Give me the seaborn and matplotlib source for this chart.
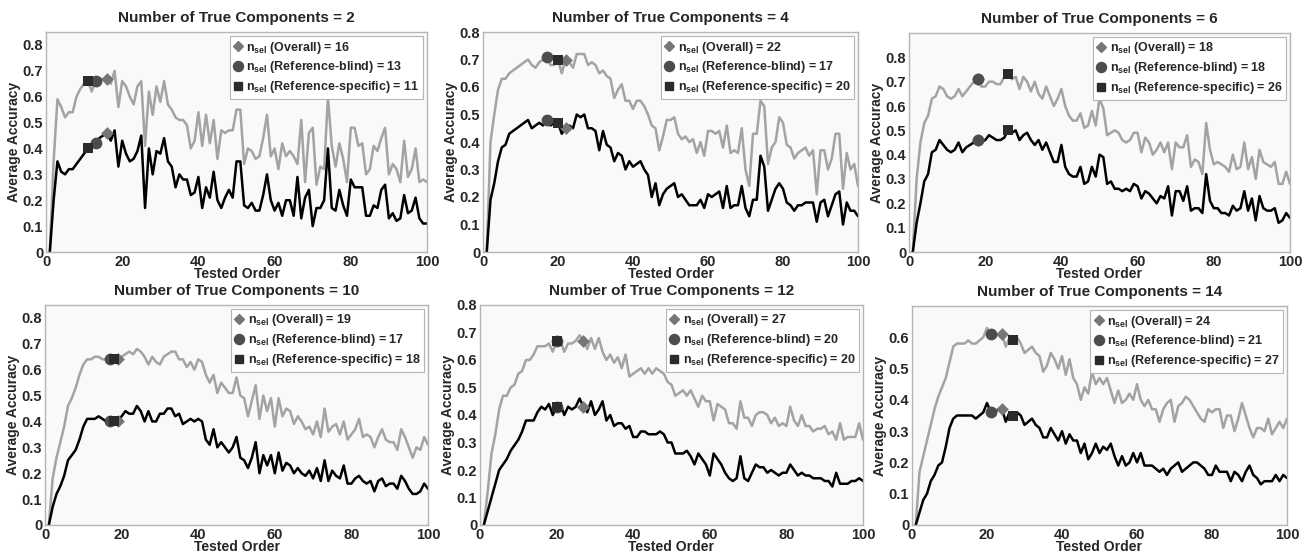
import numpy as np
import pandas as pd
import seaborn as sns
import matplotlib.pyplot as plt
from matplotlib.lines import Line2D

sns.set_theme(style="white")
plt.rcParams['font.family'] = ['Liberation Sans', 'DejaVu Sans']
plt.rcParams['font.weight'] = 'bold'
plt.rcParams['mathtext.fontset'] = 'custom'
plt.rcParams['mathtext.rm'] = 'Liberation Sans:bold'
plt.rcParams['mathtext.default'] = 'rm'

orders = list(range(1, 101))
n_true = [2, 4, 6, 10, 12, 14]

gray_k2 = [0.0, 0.35, 0.59, 0.56, 0.52, 0.54, 0.54, 0.60, 0.63, 0.65,
           0.66, 0.62, 0.66, 0.66, 0.67, 0.67, 0.65, 0.70, 0.56, 0.66,
           0.64, 0.60, 0.57, 0.64, 0.66, 0.41, 0.62, 0.53, 0.64, 0.58,
           0.66, 0.57, 0.55, 0.52, 0.51, 0.51, 0.49, 0.40, 0.43, 0.54,
           0.41, 0.53, 0.42, 0.51, 0.36, 0.47, 0.46, 0.47, 0.47, 0.55,
           0.55, 0.34, 0.40, 0.39, 0.36, 0.37, 0.44, 0.53, 0.37, 0.40,
           0.32, 0.42, 0.37, 0.39, 0.37, 0.34, 0.51, 0.27, 0.46, 0.48,
           0.26, 0.33, 0.32, 0.60, 0.41, 0.33, 0.42, 0.36, 0.27, 0.48,
           0.48, 0.41, 0.42, 0.30, 0.32, 0.41, 0.39, 0.44, 0.48, 0.30,
           0.34, 0.32, 0.27, 0.43, 0.29, 0.32, 0.40, 0.27, 0.28, 0.27]
black_k2 = [0.0, 0.20, 0.35, 0.31, 0.30, 0.32, 0.32, 0.34, 0.36, 0.38,
            0.40, 0.40, 0.42, 0.44, 0.45, 0.46, 0.43, 0.47, 0.33, 0.43,
            0.38, 0.35, 0.36, 0.39, 0.45, 0.17, 0.40, 0.30, 0.39, 0.38,
            0.44, 0.35, 0.33, 0.25, 0.30, 0.28, 0.28, 0.22, 0.23, 0.29,
            0.17, 0.25, 0.21, 0.31, 0.20, 0.17, 0.21, 0.24, 0.21, 0.35,
            0.35, 0.18, 0.17, 0.19, 0.16, 0.16, 0.22, 0.30, 0.20, 0.16,
            0.19, 0.14, 0.20, 0.20, 0.14, 0.29, 0.13, 0.21, 0.24, 0.10,
            0.17, 0.17, 0.20, 0.40, 0.17, 0.16, 0.24, 0.18, 0.14, 0.28,
            0.25, 0.25, 0.25, 0.14, 0.14, 0.18, 0.17, 0.24, 0.26, 0.13,
            0.15, 0.12, 0.13, 0.22, 0.15, 0.16, 0.21, 0.13, 0.11, 0.11]

gray_k4 = [0.0, 0.40, 0.50, 0.59, 0.63, 0.63, 0.65, 0.66, 0.67, 0.68,
           0.69, 0.70, 0.68, 0.67, 0.69, 0.70, 0.71, 0.68, 0.68, 0.70,
           0.65, 0.70, 0.69, 0.67, 0.72, 0.72, 0.72, 0.68, 0.69, 0.68,
           0.65, 0.66, 0.64, 0.63, 0.56, 0.59, 0.61, 0.55, 0.55, 0.52,
           0.55, 0.55, 0.53, 0.50, 0.46, 0.45, 0.37, 0.42, 0.48, 0.48,
           0.49, 0.43, 0.41, 0.42, 0.40, 0.41, 0.36, 0.40, 0.35, 0.44,
           0.44, 0.43, 0.44, 0.38, 0.46, 0.36, 0.37, 0.36, 0.45, 0.30,
           0.24, 0.43, 0.43, 0.55, 0.53, 0.32, 0.38, 0.40, 0.49, 0.47,
           0.39, 0.38, 0.34, 0.36, 0.37, 0.38, 0.35, 0.37, 0.21, 0.37,
           0.37, 0.30, 0.34, 0.43, 0.43, 0.23, 0.36, 0.30, 0.32, 0.24]
black_k4 = [0.0, 0.19, 0.25, 0.33, 0.38, 0.39, 0.43, 0.44, 0.45, 0.46,
            0.47, 0.48, 0.45, 0.46, 0.47, 0.46, 0.48, 0.46, 0.47, 0.47,
            0.43, 0.45, 0.46, 0.45, 0.50, 0.49, 0.50, 0.45, 0.45, 0.44,
            0.37, 0.44, 0.39, 0.38, 0.33, 0.36, 0.35, 0.30, 0.33, 0.31,
            0.32, 0.33, 0.30, 0.28, 0.20, 0.25, 0.17, 0.21, 0.23, 0.24,
            0.25, 0.20, 0.21, 0.19, 0.17, 0.17, 0.17, 0.19, 0.16, 0.21,
            0.20, 0.21, 0.22, 0.16, 0.24, 0.16, 0.17, 0.17, 0.24, 0.16,
            0.13, 0.19, 0.19, 0.35, 0.31, 0.15, 0.19, 0.23, 0.25, 0.23,
            0.18, 0.17, 0.15, 0.17, 0.17, 0.18, 0.18, 0.18, 0.11, 0.18,
            0.19, 0.13, 0.17, 0.21, 0.22, 0.10, 0.18, 0.15, 0.15, 0.13]

gray_k6 = [0.0, 0.30, 0.45, 0.53, 0.56, 0.63, 0.64, 0.68, 0.67, 0.64,
           0.63, 0.64, 0.67, 0.64, 0.66, 0.68, 0.70, 0.71, 0.68, 0.68,
           0.70, 0.70, 0.69, 0.69, 0.72, 0.73, 0.71, 0.72, 0.67, 0.72,
           0.70, 0.66, 0.70, 0.65, 0.63, 0.68, 0.64, 0.60, 0.63, 0.67,
           0.60, 0.56, 0.54, 0.54, 0.57, 0.51, 0.52, 0.58, 0.52, 0.63,
           0.59, 0.48, 0.49, 0.50, 0.49, 0.46, 0.45, 0.46, 0.49, 0.49,
           0.41, 0.47, 0.45, 0.40, 0.42, 0.45, 0.41, 0.45, 0.34, 0.45,
           0.43, 0.43, 0.48, 0.35, 0.38, 0.37, 0.32, 0.53, 0.42, 0.36,
           0.37, 0.36, 0.35, 0.33, 0.40, 0.34, 0.35, 0.45, 0.34, 0.39,
           0.30, 0.42, 0.37, 0.36, 0.35, 0.37, 0.28, 0.28, 0.33, 0.28]
black_k6 = [0.0, 0.12, 0.20, 0.29, 0.32, 0.41, 0.42, 0.46, 0.44, 0.42,
            0.41, 0.42, 0.45, 0.41, 0.43, 0.44, 0.45, 0.46, 0.45, 0.46,
            0.48, 0.47, 0.46, 0.46, 0.47, 0.50, 0.49, 0.50, 0.46, 0.48,
            0.49, 0.46, 0.44, 0.46, 0.42, 0.45, 0.41, 0.37, 0.37, 0.44,
            0.35, 0.32, 0.31, 0.31, 0.35, 0.28, 0.29, 0.35, 0.31, 0.40,
            0.39, 0.28, 0.29, 0.26, 0.26, 0.25, 0.26, 0.25, 0.28, 0.27,
            0.22, 0.25, 0.24, 0.22, 0.20, 0.23, 0.22, 0.27, 0.15, 0.25,
            0.25, 0.21, 0.27, 0.17, 0.18, 0.18, 0.16, 0.32, 0.21, 0.18,
            0.18, 0.16, 0.16, 0.15, 0.19, 0.17, 0.18, 0.25, 0.17, 0.22,
            0.13, 0.23, 0.18, 0.17, 0.17, 0.18, 0.12, 0.13, 0.16, 0.14]

gray_k10 = [0.0, 0.18, 0.26, 0.32, 0.38, 0.46, 0.49, 0.53, 0.58, 0.62,
            0.64, 0.64, 0.65, 0.65, 0.64, 0.64, 0.64, 0.64, 0.64, 0.65,
            0.66, 0.67, 0.66, 0.68, 0.67, 0.65, 0.62, 0.65, 0.63, 0.62,
            0.65, 0.66, 0.67, 0.67, 0.64, 0.64, 0.61, 0.63, 0.60, 0.64,
            0.63, 0.58, 0.55, 0.58, 0.51, 0.55, 0.53, 0.51, 0.51, 0.57,
            0.50, 0.49, 0.42, 0.48, 0.54, 0.41, 0.50, 0.44, 0.49, 0.38,
            0.49, 0.42, 0.45, 0.44, 0.39, 0.42, 0.40, 0.37, 0.38, 0.35,
            0.40, 0.34, 0.45, 0.36, 0.38, 0.39, 0.35, 0.40, 0.33, 0.35,
            0.37, 0.41, 0.34, 0.35, 0.34, 0.30, 0.34, 0.37, 0.33, 0.32,
            0.32, 0.29, 0.37, 0.34, 0.30, 0.26, 0.30, 0.29, 0.34, 0.31]
black_k10 = [0.0, 0.07, 0.12, 0.15, 0.19, 0.25, 0.27, 0.29, 0.33, 0.38,
             0.41, 0.41, 0.41, 0.42, 0.41, 0.40, 0.40, 0.40, 0.40, 0.42,
             0.44, 0.43, 0.43, 0.46, 0.44, 0.40, 0.44, 0.40, 0.40, 0.43,
             0.43, 0.45, 0.45, 0.42, 0.43, 0.39, 0.40, 0.41, 0.40, 0.41,
             0.40, 0.33, 0.31, 0.37, 0.30, 0.32, 0.30, 0.28, 0.30, 0.34,
             0.26, 0.25, 0.22, 0.26, 0.32, 0.20, 0.27, 0.23, 0.27, 0.20,
             0.28, 0.21, 0.24, 0.23, 0.20, 0.22, 0.20, 0.19, 0.21, 0.18,
             0.22, 0.17, 0.25, 0.17, 0.21, 0.19, 0.18, 0.23, 0.16, 0.16,
             0.18, 0.19, 0.17, 0.16, 0.17, 0.13, 0.17, 0.18, 0.15, 0.16,
             0.16, 0.14, 0.19, 0.17, 0.14, 0.12, 0.12, 0.13, 0.16, 0.14]

gray_k12 = [0.0, 0.12, 0.26, 0.33, 0.42, 0.47, 0.47, 0.50, 0.51, 0.55,
            0.56, 0.60, 0.60, 0.62, 0.65, 0.65, 0.65, 0.66, 0.63, 0.67,
            0.67, 0.63, 0.66, 0.66, 0.67, 0.69, 0.67, 0.64, 0.68, 0.64,
            0.68, 0.63, 0.60, 0.62, 0.59, 0.61, 0.57, 0.62, 0.54, 0.55,
            0.56, 0.57, 0.55, 0.57, 0.55, 0.57, 0.56, 0.55, 0.52, 0.51,
            0.47, 0.48, 0.49, 0.47, 0.49, 0.46, 0.43, 0.47, 0.45, 0.45,
            0.38, 0.44, 0.43, 0.42, 0.37, 0.37, 0.35, 0.45, 0.39, 0.39,
            0.36, 0.40, 0.41, 0.41, 0.40, 0.37, 0.39, 0.36, 0.37, 0.36,
            0.43, 0.38, 0.36, 0.40, 0.36, 0.36, 0.34, 0.35, 0.35, 0.36,
            0.33, 0.34, 0.31, 0.37, 0.31, 0.32, 0.32, 0.32, 0.37, 0.31]
black_k12 = [0.0, 0.05, 0.10, 0.15, 0.20, 0.22, 0.24, 0.27, 0.29, 0.31,
             0.34, 0.38, 0.38, 0.38, 0.41, 0.43, 0.42, 0.44, 0.40, 0.43,
             0.44, 0.40, 0.43, 0.42, 0.43, 0.46, 0.43, 0.41, 0.45, 0.40,
             0.42, 0.45, 0.38, 0.40, 0.36, 0.37, 0.37, 0.35, 0.36, 0.32,
             0.32, 0.34, 0.34, 0.33, 0.33, 0.33, 0.34, 0.33, 0.30, 0.30,
             0.26, 0.26, 0.26, 0.27, 0.25, 0.22, 0.26, 0.24, 0.22, 0.18,
             0.26, 0.24, 0.22, 0.19, 0.17, 0.16, 0.17, 0.25, 0.17, 0.16,
             0.19, 0.22, 0.21, 0.21, 0.19, 0.20, 0.19, 0.18, 0.19, 0.19,
             0.22, 0.20, 0.18, 0.19, 0.18, 0.18, 0.17, 0.17, 0.17, 0.16,
             0.16, 0.14, 0.19, 0.15, 0.15, 0.15, 0.16, 0.16, 0.17, 0.16]

gray_k14 = [0.0, 0.17, 0.22, 0.27, 0.32, 0.37, 0.41, 0.44, 0.47, 0.52,
            0.57, 0.58, 0.58, 0.58, 0.59, 0.58, 0.58, 0.59, 0.60, 0.63,
            0.61, 0.60, 0.61, 0.61, 0.57, 0.60, 0.59, 0.60, 0.58, 0.55,
            0.56, 0.57, 0.55, 0.54, 0.49, 0.51, 0.55, 0.53, 0.50, 0.54,
            0.48, 0.53, 0.47, 0.45, 0.40, 0.44, 0.42, 0.49, 0.45, 0.47,
            0.45, 0.47, 0.43, 0.39, 0.43, 0.39, 0.40, 0.42, 0.40, 0.45,
            0.40, 0.38, 0.40, 0.37, 0.37, 0.33, 0.37, 0.39, 0.40, 0.33,
            0.38, 0.39, 0.41, 0.40, 0.38, 0.36, 0.34, 0.33, 0.37, 0.36,
            0.37, 0.37, 0.31, 0.35, 0.35, 0.30, 0.34, 0.39, 0.35, 0.31,
            0.28, 0.31, 0.31, 0.30, 0.34, 0.29, 0.31, 0.33, 0.31, 0.34]
black_k14 = [0.0, 0.04, 0.08, 0.10, 0.14, 0.16, 0.19, 0.20, 0.25, 0.31,
             0.34, 0.35, 0.35, 0.35, 0.35, 0.35, 0.34, 0.35, 0.36, 0.39,
             0.36, 0.36, 0.37, 0.37, 0.33, 0.36, 0.35, 0.36, 0.35, 0.32,
             0.33, 0.34, 0.32, 0.31, 0.28, 0.28, 0.31, 0.29, 0.27, 0.30,
             0.26, 0.29, 0.27, 0.27, 0.23, 0.26, 0.21, 0.23, 0.26, 0.23,
             0.25, 0.24, 0.26, 0.22, 0.19, 0.22, 0.19, 0.20, 0.23, 0.20,
             0.23, 0.19, 0.19, 0.19, 0.18, 0.17, 0.18, 0.16, 0.18, 0.19,
             0.20, 0.17, 0.18, 0.19, 0.20, 0.20, 0.19, 0.18, 0.16, 0.16,
             0.19, 0.17, 0.17, 0.17, 0.14, 0.17, 0.16, 0.14, 0.17, 0.19,
             0.16, 0.15, 0.13, 0.14, 0.14, 0.14, 0.16, 0.14, 0.16, 0.15]

gray_lines = [gray_k2, gray_k4, gray_k6, gray_k10, gray_k12, gray_k14]
black_lines = [black_k2, black_k4, black_k6, black_k10, black_k12, black_k14]

# n_sel values: overall, reference-blind, reference-specific
nsel_overall = [16, 22, 18, 19, 27, 24]
nsel_blind = [13, 17, 18, 17, 20, 21]
nsel_specific = [11, 20, 26, 18, 20, 27]

ymax = [0.85, 0.8, 0.9, 0.85, 0.8, 0.7]
yticks = [np.arange(0, 0.81, 0.1), np.arange(0, 0.81, 0.1), np.arange(0, 0.81, 0.1),
          np.arange(0, 0.81, 0.1), np.arange(0, 0.81, 0.1), np.arange(0, 0.61, 0.1)]

# axes boxes in pixels: left, right, top, bottom
boxes = [(46, 427, 32, 252), (483, 858, 32, 252), (909, 1290, 33, 252),
         (45, 428, 305, 525), (480, 863, 305, 525), (912, 1287, 306, 525)]

W, H = 1312, 553
fig = plt.figure(figsize=(W / 100, H / 100), dpi=100)

mk_styles = [('D', '#767676', 6.5), ('o', '#4d4d4d', 8.5), ('s', '#2b2b2b', 7)]

for i in range(6):
    l, r, t, b = boxes[i]
    ax = fig.add_axes([l / W, 1 - b / H, (r - l) / W, (b - t) / H])
    ax.set_facecolor('#f9f9f9')
    df = pd.DataFrame({'order': orders, 'gray': gray_lines[i], 'black': black_lines[i]})
    sns.lineplot(data=df, x='order', y='gray', color='#a3a3a3', lw=1.8, ax=ax)
    sns.lineplot(data=df, x='order', y='black', color='black', lw=1.8, ax=ax)

    for n, (m, c, s) in zip([nsel_overall[i], nsel_blind[i], nsel_specific[i]], mk_styles):
        pts = pd.DataFrame({'x': [n, n], 'y': [gray_lines[i][n - 1], black_lines[i][n - 1]]})
        sns.scatterplot(data=pts, x='x', y='y', marker=m, color=c, s=s ** 2,
                        edgecolor=c, linewidth=0, ax=ax, zorder=5)

    ax.set_xlim(0, 100)
    ax.set_ylim(0, ymax[i])
    ax.set_xticks([0, 20, 40, 60, 80, 100])
    ax.set_yticks(yticks[i])
    ax.set_yticklabels(['0'] + ['%.1f' % v for v in yticks[i][1:]])
    ax.tick_params(direction='in', length=3, color='#b0b0b0', labelsize=10.5, pad=2)
    for lab in ax.get_xticklabels() + ax.get_yticklabels():
        lab.set_fontweight('bold')
    for sp in ax.spines.values():
        sp.set_color('#b5b5b5')
        sp.set_linewidth(1.0)
    ax.set_xlabel('Tested Order', fontsize=10, fontweight='bold', labelpad=-1)
    ax.set_ylabel('Average Accuracy', fontsize=10, fontweight='bold', labelpad=1)
    ax.set_title('Number of True Components = %d' % n_true[i], fontsize=11,
                 fontweight='bold', pad=7)

    handles = [Line2D([], [], ls='none', marker=m, color=c, markersize=s * 0.85)
               for m, c, s in mk_styles]
    labels = [r'$n_{sel}$ (Overall) = %d' % nsel_overall[i],
              r'$n_{sel}$ (Reference-blind) = %d' % nsel_blind[i],
              r'$n_{sel}$ (Reference-specific) = %d' % nsel_specific[i]]
    leg = ax.legend(handles, labels, loc='upper right', frameon=True,
                    fancybox=False, edgecolor='#b5b5b5', facecolor='white', framealpha=1,
                    handlelength=0.7, handletextpad=0.3, labelspacing=0.3,
                    borderpad=0.3, borderaxespad=0.3, prop={'weight': 'bold', 'size': 9})
    leg.get_frame().set_linewidth(0.8)

fig.savefig('out.png', dpi=100, facecolor='white')
